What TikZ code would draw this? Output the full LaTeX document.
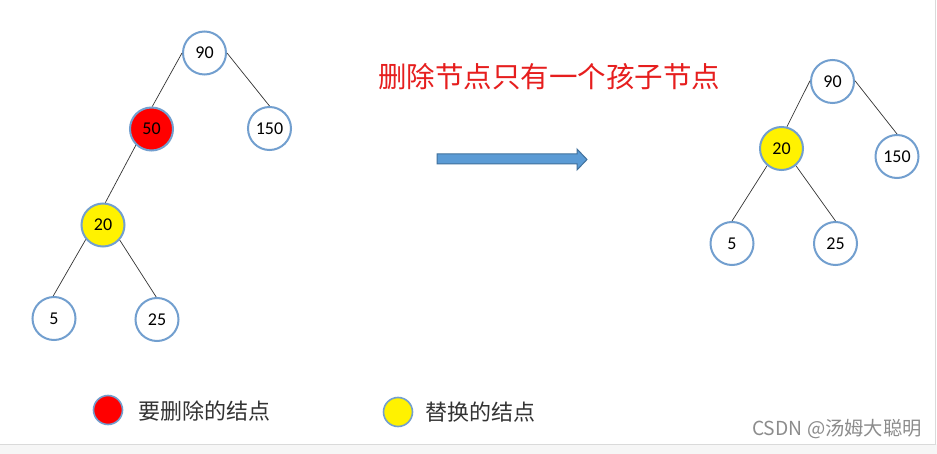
\documentclass[tikz,border=0pt]{standalone}
\usepackage{fontspec}
\setmainfont{Carlito}
\newfontfamily\cjk{Noto Sans CJK SC}
\definecolor{ringblue}{RGB}{114,159,207}
\definecolor{arrowfill}{RGB}{91,155,213}
\definecolor{arrowline}{RGB}{65,113,156}
\definecolor{framegray}{RGB}{218,218,218}
\definecolor{stripgray}{RGB}{246,246,246}
\definecolor{titlered}{RGB}{230,30,30}
\begin{document}
\begin{tikzpicture}[x=1pt,y=-1pt,
  treenode/.style={circle,draw=ringblue,line width=2pt,fill=white,minimum size=43pt,inner sep=0pt,font=\fontsize{18}{18}\selectfont},
  delnode/.style={treenode,fill=red},
  repnode/.style={treenode,fill=yellow},
  edge/.style={draw=black!80,line width=0.7pt},
  legnode/.style={circle,draw=ringblue,line width=1.6pt,minimum size=29pt,inner sep=0pt},
  legtext/.style={anchor=west,text=black!80,font=\cjk\fontsize{22}{22}\selectfont,inner sep=0pt}]
\useasboundingbox (0,0) rectangle (937,454);
\fill[white] (0,0) rectangle (937,454);
\fill[stripgray] (0,444) rectangle (937,454);
\draw[framegray,line width=1pt] (0,444) -- (935,444) -- (935,0);
% left tree
\node[treenode] (a90) at (204.5,53) {90};
\node[delnode] (a50) at (151.5,129) {50};
\node[treenode] (a150) at (269.5,128.5) {150};
\node[repnode] (a20) at (103,225) {20};
\node[treenode] (a5) at (54,318.5) {5};
\node[treenode] (a25) at (157,319.5) {25};
\draw[edge] (a90.180) -- (a50.88);
\draw[edge] (a90.0) -- (a150.90);
\draw[edge] (a50.226) -- (a20.84);
\draw[edge] (a20.220) -- (a5.92);
\draw[edge] (a20.318) -- (a25.92);
% right tree
\node[treenode] (b90) at (832.5,81.5) {90};
\node[repnode] (b20) at (781.5,148.5) {20};
\node[treenode] (b150) at (897,156.5) {150};
\node[treenode] (b5) at (732,243.5) {5};
\node[treenode] (b25) at (835.5,243.5) {25};
\draw[edge] (b90.178) -- (b20.76);
\draw[edge] (b90.2) -- (b150.90);
\draw[edge] (b20.230) -- (b5.90);
\draw[edge] (b20.310) -- (b25.90);
% title
\node[text=titlered,font=\cjk\fontsize{28.5}{28.5}\selectfont,inner sep=0pt] (title) at (549,77) {删除节点只有一个孩子节点};
% block arrow
\filldraw[fill=arrowfill,draw=arrowline,line width=1pt]
  (437,154) -- (577,154) -- (577,149) -- (587,159.5) -- (577,170) -- (577,164) -- (437,164) -- cycle;
% legend
\node[legnode,fill=red] (lred) at (108,410) {};
\node[legtext] (tred) at (138,411) {要删除的结点};
\node[legnode,fill=yellow] (lyel) at (398,412) {};
\node[legtext] (tyel) at (425,412) {替换的结点};
% watermark
\node[anchor=east,text=black!45,font=\cjk\fontsize{19.3}{19.3}\selectfont,inner sep=0pt] (wm) at (922,429) {CSDN @汤姆大聪明};
\end{tikzpicture}
\end{document}
